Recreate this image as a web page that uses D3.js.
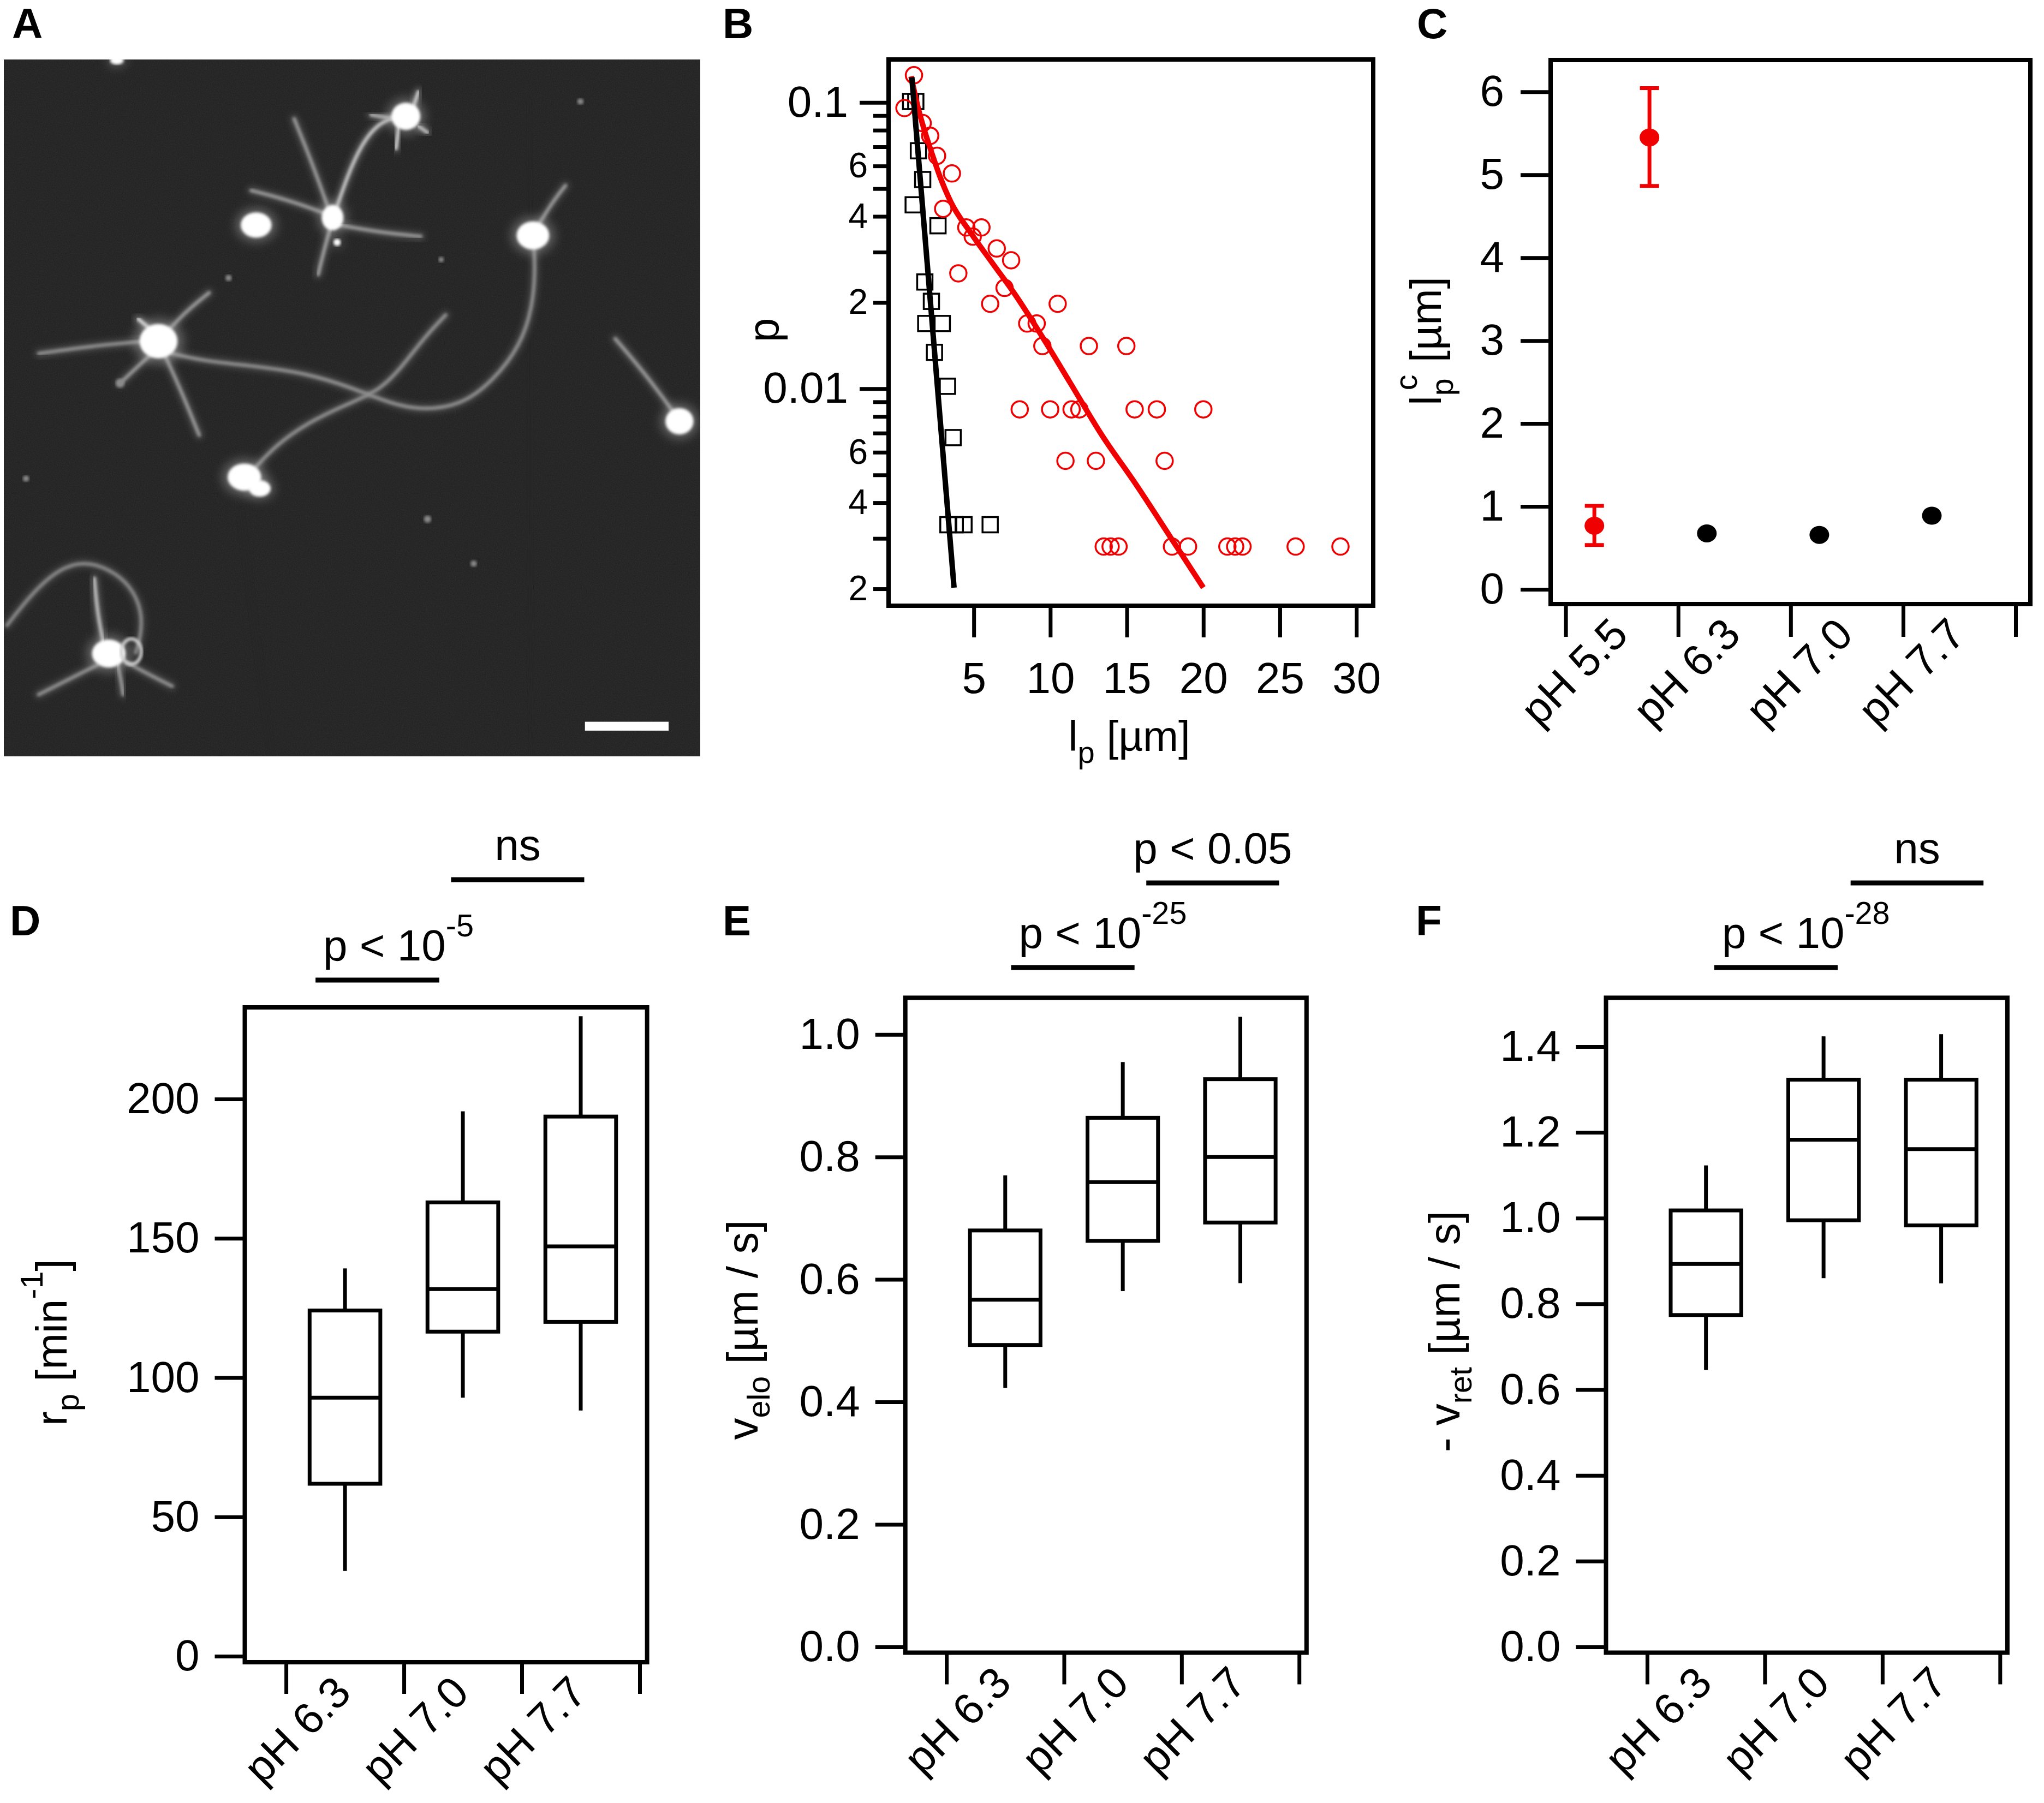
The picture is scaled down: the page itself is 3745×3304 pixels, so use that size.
<!DOCTYPE html>
<html>
<head>
<meta charset="utf-8">
<title>Protrusion figure</title>
<script src="https://cdn.jsdelivr.net/npm/d3@7"></script>
<style>
  body { margin: 0; background: #fff; }
</style>
</head>
<body>
<script>
// ---------- data ----------

// B: probability p of protrusion length l_p (µm); black squares / red circles
const bSquares = [[0.87,0.1008],[1.21,0.1008],[1.38,0.0678],[1.66,0.0538],[1.04,0.0439],[2.66,0.0371],
  [1.80,0.0236],[2.23,0.0202],[1.86,0.0169],[2.94,0.0169],[2.43,0.0134],[3.28,0.0102],[3.65,0.00675],
  [3.31,0.00335],[3.79,0.00335],[4.36,0.00335],[6.07,0.00335]];
const bCircles = [[1.09,0.1245],[0.47,0.0956],[1.66,0.0847],[2.15,0.0765],[2.60,0.0651],[3.57,0.0565],
  [3.00,0.0425],[4.51,0.0366],[5.50,0.0366],[4.93,0.0340],[6.50,0.0309],[7.44,0.0281],[3.99,0.0253],
  [7.01,0.0225],[6.07,0.0198],[10.48,0.0198],[8.49,0.0169],[9.11,0.0169],[9.48,0.0141],[12.52,0.0141],
  [14.97,0.0141],[8.00,0.00847],[9.99,0.00847],[11.39,0.00847],[11.90,0.00847],[15.51,0.00847],
  [16.96,0.00847],[20.0,0.00847],[10.99,0.0056],[12.98,0.0056],[17.47,0.0056],[13.49,0.00281],
  [13.94,0.00281],[14.46,0.00281],[17.95,0.00281],[19.0,0.00281],[21.57,0.00281],[22.08,0.00281],
  [22.56,0.00281],[26.03,0.00281],[28.96,0.00281]];
const bBlackFit = [[0.95,0.1225],[3.71,0.00202]];
const bRedFit = [[0.90,0.1234],[1.38,0.0949],[1.80,0.0791],[2.23,0.0672],[2.80,0.0549],[3.51,0.0448],
  [4.79,0.0351],[6.21,0.0275],[7.63,0.0216],[9.34,0.0156],[11.33,0.01042],[13.32,0.00695],
  [15.60,0.00463],[17.87,0.00302],[20.0,0.00202]];
const bXTicks = [5, 10, 15, 20, 25, 30];
const bYMajor = [0.1, 0.01];
const bYMinor = [0.09,0.08,0.07,0.06,0.05,0.04,0.03,0.02,0.009,0.008,0.007,0.006,0.005,0.004,0.003,0.002];
const bMinorLabelled = [6, 4, 2];

// C: characteristic length l_p^c (µm)
const cCats = ["pH 5.5", "pH 6.3", "pH 7.0", "pH 7.7"];
const cShort = [0.767, 0.675, 0.657, 0.888];
const cShortErr = [[0.535, 1.006], null, null, null];
const cLong = [5.45, null, null, null];
const cLongErr = [[4.865, 6.045], null, null, null];
const cYTicks = [0, 1, 2, 3, 4, 5, 6];

// D-F: box plots, each row = [lower whisker, Q1, median, Q3, upper whisker]
const boxCats = ["pH 6.3", "pH 7.0", "pH 7.7"];
const rpStats = [[30.6, 61.9, 92.8, 124.1, 139.2], [92.8, 116.5, 131.8, 162.9, 195.6], [88.2, 120.0, 147.1, 193.7, 229.7]];
const veloStats = [[0.423, 0.493, 0.567, 0.680, 0.770], [0.581, 0.663, 0.759, 0.864, 0.955], [0.594, 0.693, 0.800, 0.927, 1.029]];
const vretStats = [[0.646, 0.774, 0.893, 1.018, 1.123], [0.860, 0.995, 1.183, 1.323, 1.424], [0.848, 0.983, 1.161, 1.323, 1.429]];
const rpTicks = [0, 50, 100, 150, 200];
const veloTicks = [0, 0.2, 0.4, 0.6, 0.8, 1.0];
const vretTicks = [0, 0.2, 0.4, 0.6, 0.8, 1.0, 1.2, 1.4];
// significance bars, in category-axis units
const rpSig = [{label: "p < 10", exp: "-5", from: 0.25, to: 1.30}, {label: "ns", from: 1.40, to: 2.53}];
const veloSig = [{label: "p < 10", exp: "-25", from: 0.55, to: 1.60}, {label: "p < 0.05", from: 1.70, to: 2.83}];
const vretSig = [{label: "p < 10", exp: "-28", from: 0.57, to: 1.62}, {label: "ns", from: 1.73, to: 2.86}];

// A: micrograph features, in micrograph pixel units
const cellBodies = [[897,235,32,30],[566,455,34,28],[735,440,24,28],[1178,476,36,31],[350,690,42,38],
  [540,965,37,30],[574,988,24,18],[1502,852,31,29],[240,1322,37,31],[258,122,15,9],[745,490,8,8]];
const filaments = [
  {lvl: 0.7, pts: [[740,430],[770,350],[800,290],[835,250],[870,238]]},
  {lvl: 0.4, pts: [[725,420],[690,330],[650,240]]},
  {lvl: 0.4, pts: [[720,432],[640,405],[555,385]]},
  {lvl: 0.4, pts: [[750,455],[840,470],[930,478]]},
  {lvl: 0.45, pts: [[730,460],[715,510],[703,555]]},
  {lvl: 0.75, pts: [[912,220],[925,185]]},
  {lvl: 0.75, pts: [[882,255],[875,300]]},
  {lvl: 0.55, pts: [[870,240],[820,232]]},
  {lvl: 0.65, pts: [[925,255],[945,268]]},
  {lvl: 0.4, pts: [[1190,455],[1220,410],[1250,375]]},
  {lvl: 0.35, pts: [[380,715],[450,730],[560,740],[680,755],[780,785],[860,815],[930,830],[1020,820],[1090,770],[1150,700],[1178,620],[1183,540],[1180,500]]},
  {lvl: 0.35, pts: [[565,945],[610,900],[680,855],[760,820],[840,790],[890,740],[940,680],[985,637]]},
  {lvl: 0.35, pts: [[320,690],[200,700],[85,715]]},
  {lvl: 0.4, pts: [[370,670],[410,630],[462,592]]},
  {lvl: 0.4, pts: [[365,720],[400,790],[440,880]]},
  {lvl: 0.4, pts: [[335,715],[300,745],[265,775]]},
  {lvl: 0.85, pts: [[335,668],[305,645]]},
  {lvl: 0.4, pts: [[1490,835],[1430,760],[1360,685]]},
  {lvl: 0.3, pts: [[15,1265],[70,1200],[130,1150],[185,1135],[240,1150],[290,1185],[315,1240],[310,1290],[300,1320]]},
  {lvl: 0.65, pts: [[228,1300],[215,1240],[208,1170]]},
  {lvl: 0.35, pts: [[215,1345],[150,1375],[85,1405]]},
  {lvl: 0.35, pts: [[280,1340],[330,1365],[380,1388]]},
  {lvl: 0.4, pts: [[260,1345],[268,1380],[272,1405]]}
];
const specks = [[505,562,7],[975,525,6],[1283,205,7],[57,968,7],[945,1050,8],[1047,1140,7],[265,775,10]];
const streaks = [[[1165,200],[1170,600],[1165,1100],[1180,1530]], [[530,1030],[560,1250],[600,1530]]];
const ring = [290, 1318, 22, 28];
const scaleBar = [1293, 1460, 1478, 1478];

// ---------- drawing ----------
const FONT = '"Liberation Sans", Arial, Helvetica, sans-serif';
const RED = "#f00000";

const svg = d3.select("body").append("svg")
  .attr("width", 3745).attr("height", 3304)
  .attr("font-family", FONT)
  .style("display", "block").style("background", "#fff");
const defs = svg.append("defs");

// text with sub- and superscripts
function rich(text, parts, size) {
  let off = 0;
  parts.forEach(p => {
    const shift = p.sub ? 0.28 * size : p.sup ? -0.55 * size : 0;
    const t = text.append("tspan")
      .attr("dy", shift - off)
      .attr("font-size", (p.sub || p.sup) ? 0.72 * size : size)
      .text(p.t);
    if (p.dx) t.attr("dx", p.dx);
    off = shift;
  });
}

function styleAxis(g, size) {
  g.select(".domain").remove();
  g.attr("font-family", FONT).attr("font-size", size);
  g.selectAll(".tick line").attr("stroke", "#000").attr("stroke-width", 7);
  g.selectAll(".tick text").attr("fill", "#000");
}

function frame(g, f) {
  g.append("rect")
    .attr("x", f.x0).attr("y", f.y0)
    .attr("width", f.x1 - f.x0).attr("height", f.y1 - f.y0)
    .attr("fill", "none").attr("stroke", "#000").attr("stroke-width", 8);
}

function letter(txt, x, y) {
  svg.append("text").attr("x", x).attr("y", y)
    .attr("font-size", 78).attr("font-weight", "bold").text(txt);
}

function catLabels(g, x, cats, yBase) {
  g.selectAll(null).data(cats).join("text")
    .attr("transform", (d, i) => `translate(${x(i + 0.5) + 15},${yBase + 60}) rotate(-45)`)
    .attr("text-anchor", "end").attr("font-size", 80).text(d => d);
}

function yTitle(g, parts, xPos, yPos) {
  const t = g.append("text")
    .attr("transform", `translate(${xPos},${yPos}) rotate(-90)`)
    .attr("text-anchor", "middle");
  rich(t, parts, 80);
}

// ----- A: micrograph -----
function panelA() {
  const r = {x0: 7, y0: 109, x1: 1283, y1: 1386};
  const mx = d3.scaleLinear().domain([8, 1548]).range([r.x0, r.x1]);
  const my = d3.scaleLinear().domain([120, 1530]).range([r.y0, r.y1]);
  const k = mx(1) - mx(0);

  defs.append("clipPath").attr("id", "clipA").append("rect")
    .attr("x", r.x0).attr("y", r.y0).attr("width", r.x1 - r.x0).attr("height", r.y1 - r.y0);
  defs.append("filter").attr("id", "glow").append("feGaussianBlur").attr("stdDeviation", 2.4);
  defs.append("filter").attr("id", "soft").attr("x", "-50%").attr("y", "-50%").attr("width", "200%").attr("height", "200%")
    .append("feGaussianBlur").attr("stdDeviation", 6);
  defs.append("filter").attr("id", "halo").attr("x", "-100%").attr("y", "-100%").attr("width", "300%").attr("height", "300%")
    .append("feGaussianBlur").attr("stdDeviation", 10);
  const nf = defs.append("filter").attr("id", "grain");
  nf.append("feTurbulence").attr("type", "fractalNoise").attr("baseFrequency", 0.7).attr("numOctaves", 1).attr("seed", 4);
  nf.append("feColorMatrix").attr("type", "matrix").attr("values", "0 0 0 0 1  0 0 0 0 1  0 0 0 0 1  0.1 0 0 0 0");

  const g = svg.append("g").attr("clip-path", "url(#clipA)");
  g.append("rect").attr("x", r.x0).attr("y", r.y0).attr("width", r.x1 - r.x0).attr("height", r.y1 - r.y0).attr("fill", "#1c1c1c");
  g.append("rect").attr("x", r.x0).attr("y", r.y0).attr("width", r.x1 - r.x0).attr("height", r.y1 - r.y0).attr("filter", "url(#grain)");

  const line = d3.line().x(d => mx(d[0])).y(d => my(d[1])).curve(d3.curveBasis);
  g.selectAll(".streak").data(streaks).join("path")
    .attr("d", line).attr("fill", "none").attr("stroke", "#282828").attr("stroke-width", 9).attr("filter", "url(#glow)");

  const grey = d3.interpolateRgb("#5a5a5a", "#f2f2f2");
  // soft glow around each filament, then its core
  g.selectAll(".filglow").data(filaments).join("path")
    .attr("d", d => line(d.pts)).attr("fill", "none")
    .attr("stroke", d => grey(d.lvl)).attr("stroke-opacity", 0.35).attr("stroke-width", 18 * k)
    .attr("stroke-linecap", "round").attr("filter", "url(#soft)");
  g.selectAll(".fil").data(filaments).join("path")
    .attr("d", d => line(d.pts)).attr("fill", "none")
    .attr("stroke", d => grey(d.lvl)).attr("stroke-width", 7.5 * k)
    .attr("stroke-linecap", "round").attr("filter", "url(#glow)");

  g.selectAll(".halo").data(cellBodies).join("ellipse")
    .attr("cx", d => mx(d[0])).attr("cy", d => my(d[1]))
    .attr("rx", d => d[2] * k * 1.3).attr("ry", d => d[3] * k * 1.3)
    .attr("fill", "#bbbbbb").attr("opacity", 0.45).attr("filter", "url(#halo)");
  g.selectAll(".body").data(cellBodies).join("ellipse")
    .attr("cx", d => mx(d[0])).attr("cy", d => my(d[1]))
    .attr("rx", d => d[2] * k).attr("ry", d => d[3] * k)
    .attr("fill", "#ffffff").attr("filter", "url(#glow)");
  g.append("ellipse")
    .attr("cx", mx(ring[0])).attr("cy", my(ring[1])).attr("rx", ring[2] * k).attr("ry", ring[3] * k)
    .attr("fill", "none").attr("stroke", "#d0d0d0").attr("stroke-width", 6).attr("filter", "url(#glow)");
  g.selectAll(".speck").data(specks).join("circle")
    .attr("cx", d => mx(d[0])).attr("cy", d => my(d[1])).attr("r", d => d[2] * k)
    .attr("fill", "#8a8a8a").attr("filter", "url(#glow)");
  g.append("rect")
    .attr("x", mx(scaleBar[0])).attr("y", my(scaleBar[1]))
    .attr("width", mx(scaleBar[2]) - mx(scaleBar[0])).attr("height", my(scaleBar[3]) - my(scaleBar[1]))
    .attr("fill", "#ffffff");
  letter("A", 22, 70);
}

// ----- B: length distributions -----
function panelB() {
  const f = {x0: 1628, x1: 2516, y0: 109, y1: 1110};
  const x = d3.scaleLinear().domain([-0.57, 31.1]).range([f.x0, f.x1]);
  const y = d3.scaleLog().domain([0.1413, 0.001746]).range([f.y0, f.y1]);
  const g = svg.append("g");

  const ax = g.append("g").attr("transform", `translate(0,${f.y1})`)
    .call(d3.axisBottom(x).tickValues(bXTicks).tickFormat(d3.format("d")).tickSize(58).tickPadding(45));
  styleAxis(ax, 80);
  const ayMaj = g.append("g").attr("transform", `translate(${f.x0},0)`)
    .call(d3.axisLeft(y).tickValues(bYMajor).tickFormat(d3.format("~g")).tickSize(53).tickPadding(21));
  styleAxis(ayMaj, 80);
  const ayMin = g.append("g").attr("transform", `translate(${f.x0},0)`)
    .call(d3.axisLeft(y).tickValues(bYMinor).tickSize(28).tickPadding(10)
      .tickFormat(d => {
        const m = Math.round(d / Math.pow(10, Math.floor(Math.log10(d) + 1e-9)));
        return bMinorLabelled.includes(m) ? m : "";
      }));
  styleAxis(ayMin, 64);

  defs.append("clipPath").attr("id", "clipB").append("rect")
    .attr("x", f.x0).attr("y", f.y0).attr("width", f.x1 - f.x0).attr("height", f.y1 - f.y0);
  const plot = g.append("g").attr("clip-path", "url(#clipB)");
  const line = d3.line().x(d => x(d[0])).y(d => y(d[1])).curve(d3.curveMonotoneX);

  plot.selectAll(".sq").data(bSquares).join("rect")
    .attr("x", d => x(d[0]) - 14).attr("y", d => y(d[1]) - 14)
    .attr("width", 28).attr("height", 28)
    .attr("fill", "none").attr("stroke", "#000").attr("stroke-width", 3.5);
  plot.selectAll(".ci").data(bCircles).join("circle")
    .attr("cx", d => x(d[0])).attr("cy", d => y(d[1])).attr("r", 15)
    .attr("fill", "none").attr("stroke", RED).attr("stroke-width", 3.5);
  plot.append("path").attr("d", line(bRedFit))
    .attr("fill", "none").attr("stroke", RED).attr("stroke-width", 10);
  plot.append("path").attr("d", line(bBlackFit))
    .attr("fill", "none").attr("stroke", "#000").attr("stroke-width", 10);
  frame(g, f);

  yTitle(g, [{t: "p"}], 1426, 605);
  const xt = g.append("text").attr("x", 2069).attr("y", 1376).attr("text-anchor", "middle");
  rich(xt, [{t: "l"}, {t: "p", sub: true}, {t: " [µm]"}], 78);
  letter("B", 1324, 70);
}

// ----- C: characteristic lengths -----
function panelC() {
  const f = {x0: 2841, x1: 3720, y0: 110, y1: 1107};
  const x = d3.scaleLinear().domain([-0.134, 4.131]).range([f.x0, f.x1]);
  const y = d3.scaleLinear().domain([-0.178, 6.384]).range([f.y1, f.y0]);
  const g = svg.append("g");

  const ay = g.append("g").attr("transform", `translate(${f.x0},0)`)
    .call(d3.axisLeft(y).tickValues(cYTicks).tickFormat(d3.format("d")).tickSize(55).tickPadding(30));
  styleAxis(ay, 80);
  const ax = g.append("g").attr("transform", `translate(0,${f.y1})`)
    .call(d3.axisBottom(x).tickValues([0, 1, 2, 3, 4]).tickFormat("").tickSize(60));
  styleAxis(ax, 80);
  catLabels(g, x, cCats, f.y1);

  const colour = i => i === 0 ? RED : "#000";
  const series = [{vals: cShort, err: cShortErr, off: -0.245}, {vals: cLong, err: cLongErr, off: 0.245}];
  series.forEach(s => {
    s.vals.forEach((v, i) => {
      if (v == null) return;
      const cx = x(i + 0.5 + s.off);
      const e = s.err[i];
      if (e) {
        const eg = g.append("g").attr("stroke", colour(i)).attr("stroke-width", 7);
        eg.append("line").attr("x1", cx).attr("x2", cx).attr("y1", y(e[0])).attr("y2", y(e[1]));
        e.forEach(ev => eg.append("line")
          .attr("x1", x(i + 0.5 + s.off - 0.085)).attr("x2", x(i + 0.5 + s.off + 0.085))
          .attr("y1", y(ev)).attr("y2", y(ev)));
      }
      g.append("ellipse").attr("cx", cx).attr("cy", y(v)).attr("rx", 18).attr("ry", 16.5).attr("fill", colour(i));
    });
  });
  frame(g, f);
  yTitle(g, [{t: "l"}, {t: "p", sub: true}, {t: "c", sup: true, dx: -22}, {t: " [µm]"}], 2640, 625);
  letter("C", 2596, 70);
}

// ----- D-F: box plots -----
function boxPanel(cfg) {
  const f = cfg.frame;
  const x = d3.scaleLinear().domain([-0.35, 3.063]).range([f.x0, f.x1]);
  const y = d3.scaleLinear().domain(cfg.ydom).range([f.y1, f.y0]);
  const g = svg.append("g");

  const ay = g.append("g").attr("transform", `translate(${f.x0},0)`)
    .call(d3.axisLeft(y).tickValues(cfg.ticks).tickFormat(cfg.fmt).tickSize(55).tickPadding(28));
  styleAxis(ay, 80);
  const ax = g.append("g").attr("transform", `translate(0,${f.y1})`)
    .call(d3.axisBottom(x).tickValues([0, 1, 2, 3]).tickFormat("").tickSize(58));
  styleAxis(ax, 80);
  catLabels(g, x, boxCats, f.y1);

  const halfW = 0.3;
  const boxes = g.selectAll(".box").data(cfg.stats).join("g");
  boxes.append("line")
    .attr("x1", (d, i) => x(i + 0.5)).attr("x2", (d, i) => x(i + 0.5))
    .attr("y1", d => y(d[0])).attr("y2", d => y(d[1]));
  boxes.append("line")
    .attr("x1", (d, i) => x(i + 0.5)).attr("x2", (d, i) => x(i + 0.5))
    .attr("y1", d => y(d[3])).attr("y2", d => y(d[4]));
  boxes.append("rect")
    .attr("x", (d, i) => x(i + 0.5 - halfW)).attr("width", x(2 * halfW) - x(0))
    .attr("y", d => y(d[3])).attr("height", d => y(d[1]) - y(d[3]))
    .attr("fill", "none");
  boxes.append("line")
    .attr("x1", (d, i) => x(i + 0.5 - halfW)).attr("x2", (d, i) => x(i + 0.5 + halfW))
    .attr("y1", d => y(d[2])).attr("y2", d => y(d[2]));
  boxes.selectAll("line, rect").attr("stroke", "#000").attr("stroke-width", 7);
  frame(g, f);

  cfg.sig.forEach((s, k) => {
    const by = cfg.sigY[k];
    g.append("line").attr("x1", x(s.from)).attr("x2", x(s.to)).attr("y1", by).attr("y2", by)
      .attr("stroke", "#000").attr("stroke-width", 9);
    const t = g.append("text").attr("y", by - 36);
    if (s.exp) {
      t.attr("x", x(s.from) + 14);
      rich(t, [{t: s.label}, {t: s.exp, sup: true}], 80);
    } else {
      t.attr("x", (x(s.from) + x(s.to)) / 2).attr("text-anchor", "middle").attr("font-size", 80).text(s.label);
    }
  });
  yTitle(g, cfg.title, cfg.titleX, cfg.titleY);
  letter(cfg.letter, cfg.letterX, 1714);
}

panelA();
panelB();
panelC();
boxPanel({
  stats: rpStats, ticks: rpTicks, fmt: d3.format("d"), ydom: [-2.15, 232.9],
  frame: {x0: 448.5, x1: 1185.6, y0: 1846, y1: 3046},
  sig: rpSig, sigY: [1796, 1612],
  title: [{t: "r"}, {t: "p", sub: true}, {t: " [min"}, {t: "-1", sup: true}, {t: "]"}],
  titleX: 122, titleY: 2460, letter: "D", letterX: 18
});
boxPanel({
  stats: veloStats, ticks: veloTicks, fmt: d3.format(".1f"), ydom: [-0.0094, 1.060],
  frame: {x0: 1658.7, x1: 2393.8, y0: 1828.4, y1: 3028.5},
  sig: veloSig, sigY: [1773, 1618],
  title: [{t: "v"}, {t: "elo", sub: true}, {t: " [µm / s]"}],
  titleX: 1388, titleY: 2437, letter: "E", letterX: 1324
});
boxPanel({
  stats: vretStats, ticks: vretTicks, fmt: d3.format(".1f"), ydom: [-0.0135, 1.514],
  frame: {x0: 2942.5, x1: 3677.9, y0: 1828.4, y1: 3028.5},
  sig: vretSig, sigY: [1773, 1618],
  title: [{t: "- v"}, {t: "ret", sub: true}, {t: " [µm / s]"}],
  titleX: 2674, titleY: 2440, letter: "F", letterX: 2594
});
</script>
</body>
</html>
